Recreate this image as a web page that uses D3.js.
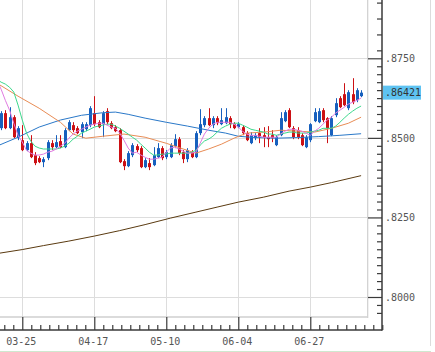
<!DOCTYPE html>
<html><head><meta charset="utf-8">
<script src="https://cdn.jsdelivr.net/npm/d3@7"></script>
<style>html,body{margin:0;padding:0;background:#fff;}svg{display:block;}</style>
</head><body><svg id="c" width="435" height="352"></svg>
<script>
// ---------- data ----------
const dates = ["03-18","03-19","03-20","03-21","03-22","03-25","03-26","03-27","03-28","03-29",
"04-01","04-02","04-03","04-04","04-05","04-08","04-09","04-10","04-11","04-12",
"04-15","04-16","04-17","04-18","04-19","04-22","04-23","04-24","04-25","04-26",
"04-29","04-30","05-01","05-02","05-03","05-06","05-07","05-08","05-09","05-10",
"05-13","05-14","05-15","05-16","05-17","05-20","05-21","05-22","05-23","05-24",
"05-27","05-28","05-29","05-30","05-31","06-03","06-04","06-05","06-06","06-07",
"06-10","06-11","06-12","06-13","06-14","06-17","06-18","06-19","06-20","06-21",
"06-24","06-25","06-26","06-27","06-28","07-01","07-02","07-03","07-04","07-05",
"07-08","07-09","07-10","07-11","07-12","07-15"];

const open = [.85305,.85776,.85305,.85650,.84991,.84928,.84614,.84834,.84457,.84363,
.84237,.84363,.84834,.84708,.84897,.84708,.85242,.85399,.85305,.85179,
.85273,.85399,.85776,.85493,.85430,.85839,.85462,.85336,.85242,.84268,
.84111,.84457,.84740,.84677,.84080,.84206,.84143,.84394,.84677,.84394,
.84394,.84740,.84959,.84551,.84331,.84551,.84394,.85148,.85399,.85619,
.85399,.85619,.85430,.85462,.85619,.85430,.85336,.85336,.85148,.84834,
.84991,.85148,.85085,.85022,.85085,.84771,.85085,.85525,.85870,.85305,
.85242,.85085,.84708,.84928,.85525,.85493,.85870,.85619,.85085,.85713,
.86247,.86372,.85933,.86372,.86184,.86310];
const close = [.85776,.85305,.85650,.85022,.85305,.84614,.84834,.84394,.84206,.84237,
.84331,.84865,.84708,.84865,.84708,.85242,.85493,.85242,.85148,.85430,
.85430,.85933,.85430,.85336,.85776,.85493,.85305,.85210,.84237,.84111,
.84520,.84771,.84614,.84080,.84300,.84080,.84457,.84677,.84363,.84551,
.84771,.84959,.84520,.84331,.84614,.84394,.85148,.85430,.85619,.85399,
.85619,.85462,.85556,.85650,.85430,.85305,.85430,.85148,.84928,.85085,
.85085,.85022,.85022,.84959,.84991,.85022,.85619,.85807,.85336,.85022,
.85022,.84771,.85022,.85430,.85807,.85839,.85556,.85305,.85619,.86090,
.85964,.86027,.86435,.86121,.86498,.86421];
const high = [.85839,.85870,.85964,.85713,.85368,.85399,.84897,.85085,.84551,.84425,
.84394,.84928,.84928,.85085,.85085,.85305,.85556,.85493,.85368,.85493,
.85493,.85996,.86310,.85556,.85839,.85933,.85525,.85399,.85305,.84331,
.84583,.84834,.84802,.84740,.84363,.84363,.84708,.84834,.84740,.84614,
.84834,.85116,.85022,.84614,.84677,.84614,.85210,.85901,.85682,.85933,
.85682,.85682,.85933,.85933,.85682,.85493,.85493,.85399,.85210,.85179,
.85148,.85305,.85336,.85368,.85242,.85085,.85807,.85870,.85933,.85368,
.85336,.85148,.85085,.85462,.85933,.85933,.85933,.85650,.85682,.86247,
.86310,.86718,.86498,.86875,.86561,.86498];
const low = [.85242,.85273,.85273,.84991,.84928,.84583,.84583,.84363,.84143,.84206,
.84080,.84300,.84614,.84677,.84677,.84677,.85210,.85179,.85116,.84991,
.85210,.85336,.85368,.85305,.85022,.85430,.85273,.85179,.84206,.83986,
.84080,.84394,.84551,.84049,.84049,.83986,.84111,.84363,.84300,.84331,
.84363,.84677,.84457,.84206,.84237,.84363,.84363,.85085,.85336,.85368,
.85305,.85399,.85399,.85430,.85305,.85273,.85305,.85085,.84897,.84802,
.84928,.84834,.84708,.84708,.84865,.84740,.85053,.85493,.85305,.84959,
.84959,.84740,.84677,.84865,.85493,.85462,.85493,.84834,.85053,.85650,
.85933,.85996,.85870,.86058,.86121,.86278];

// short moving average (values from candle index -1 to 85)
const maShortStart = -1;
const maShort = [.8681,.8653,.8618,.8587,.8546,.8508,.8487,.8461,.8452,.8446,
.8446,.8449,.8455,.8458,.8465,.8474,.8483,.8499,.8512,.8521,
.8527,.8534,.8540,.8543,.8546,.8546,.8540,.8534,.8530,.8515,
.8493,.8468,.8452,.8455,.8446,.8439,.8433,.8433,.8436,.8439,
.8455,.8468,.8471,.8465,.8458,.8452,.8452,.8455,.8483,.8512,
.8530,.8543,.8549,.8549,.8549,.8549,.8543,.8534,.8521,.8512,
.8508,.8508,.8505,.8502,.8502,.8502,.8502,.8512,.8521,.8527,
.8527,.8524,.8521,.8515,.8508,.8521,.8530,.8543,.8556,.8565,
.8578,.8587,.8596,.8606,.8612,.8618,.8625];
// medium moving average (index -1 to 85)
const maMidStart = -1;
const maMid = [.8684,.8675,.8669,.8659,.8644,.8603,.8556,.8515,.8490,.8474,
.8468,.8465,.8465,.8465,.8465,.8468,.8474,.8483,.8496,.8505,
.8515,.8521,.8527,.8534,.8537,.8540,.8543,.8543,.8537,.8530,
.8521,.8512,.8502,.8493,.8480,.8468,.8455,.8446,.8446,.8449,
.8449,.8452,.8452,.8452,.8452,.8452,.8455,.8461,.8477,.8490,
.8496,.8505,.8518,.8530,.8537,.8543,.8546,.8546,.8540,.8534,
.8527,.8524,.8521,.8518,.8512,.8512,.8508,.8512,.8515,.8518,
.8518,.8515,.8515,.8515,.8518,.8521,.8524,.8530,.8530,.8530,
.8537,.8549,.8562,.8574,.8584,.8593,.8600];
// longer moving averages, sampled at candle indices
const ma25Idx = [-1,4,9,14,17,20,24,29,34,39,43,46,49,52,55,58,62,66,70,74,78,82,85];
const ma25 = [.8672,.8631,.8593,.8549,.8512,.8499,.8505,.8512,.8502,.8483,.8465,.8452,.8465,.8480,.8499,.8515,.8518,.8524,.8521,.8518,.8530,.8546,.8565];
const ma75Idx = [-1,4,9,14,19,24,27,30,34,39,44,49,53,56,60,65,70,75,80,85];
const ma75 = [.8474,.8502,.8534,.8556,.8571,.8579,.8581,.8574,.8562,.8549,.8537,.8524,.8515,.8505,.8501,.8499,.8501,.8504,.8508,.8513];
const ma200Idx = [-1,5,10,16,22,28,34,40,46,51,56,62,68,73,78,85];
const ma200 = [.81364,.81490,.81615,.81757,.81914,.82086,.82275,.82479,.82667,.82824,.82981,.83138,.83327,.83452,.83594,.83813];

const yMajor = [0.800, 0.825, 0.850, 0.875];
const yMajorLabels = [".8000", ".8250", ".8500", ".8750"];
const lastPrice = 0.86421;
const lastLabel = ".86421";

// ---------- layout ----------
const W = 435, H = 352;
const plotR = 367.7, plotB = 317, axisX = 382, axisY = 330;
const svg = d3.select("#c");

const x = d3.scaleLinear().domain([0, 85]).range([1.1, 361.1]);
const y = d3.scaleLinear().domain([0.800, 0.875]).range([297, 58.3]);

const tickIdx = d3.range(5, dates.length, 17);
const minorX = d3.range(-2, 80).map(k => 5 + k * 17 / 8).filter(v => x(v) >= 0 && x(v) <= axisX + 0.5 && !tickIdx.includes(v));
const minorY = d3.range(0, 34).map(k => +(0.795 + k * 0.0025).toFixed(4))
  .filter(v => !yMajor.some(m => Math.abs(m - v) < 1e-6))
  .concat([0.8825, 0.8875, 0.8925]);

const font = "'DejaVu Sans Mono', 'Liberation Mono', monospace";

// outer frame
svg.append("line").attr("x1", 430.5).attr("x2", 430.5).attr("y1", 0).attr("y2", 346)
  .attr("stroke", "#dcdcdc").attr("stroke-width", 1);
svg.append("line").attr("x1", 0).attr("x2", 431).attr("y1", 351.5).attr("y2", 351.5)
  .attr("stroke", "#cfe8cf").attr("stroke-width", 1);

// grid
const grid = svg.append("g");
grid.selectAll(".hg").data(yMajor).join("line")
  .attr("x1", 0).attr("x2", plotR).attr("y1", d => Math.round(y(d)) + 0.5).attr("y2", d => Math.round(y(d)) + 0.5)
  .attr("stroke", "#dddddd");
grid.selectAll(".vg").data(tickIdx).join("line")
  .attr("x1", d => Math.round(x(d)) + 0.5).attr("x2", d => Math.round(x(d)) + 0.5).attr("y1", 0).attr("y2", plotB)
  .attr("stroke", "#dddddd");
// plot border
svg.append("line").attr("x1", plotR).attr("x2", plotR).attr("y1", 0).attr("y2", plotB + 1)
  .attr("stroke", "#cfcfcf").attr("stroke-width", 1.2);
svg.append("line").attr("x1", 0).attr("x2", plotR).attr("y1", plotB).attr("y2", plotB)
  .attr("stroke", "#cfcfcf").attr("stroke-width", 1.6);

svg.append("clipPath").attr("id", "clip").append("rect")
  .attr("x", 0).attr("y", 0).attr("width", plotR - 0.5).attr("height", plotB - 0.5);
const plot = svg.append("g").attr("clip-path", "url(#clip)");

// candles
const idx = d3.range(dates.length);
const up = i => close[i] >= open[i];
const blue = "#1760be", red = "#cc1014";
const cg = plot.append("g");
cg.selectAll("line").data(idx).join("line")
  .attr("x1", i => Math.round(x(i)) + 0.5).attr("x2", i => Math.round(x(i)) + 0.5)
  .attr("y1", i => y(high[i])).attr("y2", i => y(low[i]))
  .attr("stroke", i => up(i) ? blue : red).attr("stroke-width", 1);
cg.selectAll("rect").data(idx).join("rect")
  .attr("x", i => Math.round(x(i)) - 1)
  .attr("width", 3)
  .attr("y", i => y(Math.max(open[i], close[i])))
  .attr("height", i => Math.max(1, Math.abs(y(open[i]) - y(close[i]))))
  .attr("fill", i => up(i) ? blue : red);

// moving averages
const line = d3.line().x(d => x(d[0])).y(d => y(d[1]));
function drawMA(idxs, vals, color) {
  plot.append("path").datum(idxs.map((k, j) => [k, vals[j]]))
    .attr("d", line).attr("fill", "none").attr("stroke", color).attr("stroke-width", 1);
}
drawMA(ma200Idx, ma200, "#5a3a10");
drawMA(ma75Idx, ma75, "#2a78c8");
drawMA(ma25Idx, ma25, "#e88c55");
drawMA(maMid.map((_, j) => j + maMidStart), maMid, "#3dd88c");
drawMA(maShort.map((_, j) => j + maShortStart), maShort, "#e07be0");

// axes lines
svg.append("line").attr("x1", axisX).attr("x2", axisX).attr("y1", 0).attr("y2", axisY + 0.8)
  .attr("stroke", "#3a3a3a").attr("stroke-width", 1.5);
svg.append("line").attr("x1", 0).attr("x2", axisX).attr("y1", axisY).attr("y2", axisY)
  .attr("stroke", "#3a3a3a").attr("stroke-width", 1.5);

function styleTicks(g) {
  g.select(".domain").remove();
  g.selectAll(".tick line").attr("stroke", "#3a3a3a").attr("stroke-width", 1.2);
}
// y ticks
svg.append("g").attr("transform", `translate(${axisX},0)`)
  .call(d3.axisLeft(y).tickValues(yMajor).tickSize(14).tickFormat("")).call(styleTicks);
svg.append("g").attr("transform", `translate(${axisX},0)`)
  .call(d3.axisLeft(y).tickValues(minorY).tickSize(5).tickFormat("")).call(styleTicks);
const yl = svg.append("g").attr("transform", `translate(${axisX},0)`)
  .call(d3.axisRight(y).tickValues(yMajor).tickSize(0).tickPadding(3).tickFormat((d, i) => yMajorLabels[i]));
yl.select(".domain").remove();
yl.selectAll("text").attr("fill", "#555").style("font", `10px ${font}`);

// last price label
const ly = y(lastPrice);
svg.append("rect").attr("x", axisX + 1).attr("y", ly - 7).attr("width", 38).attr("height", 14).attr("fill", "#5ec3f2");
svg.append("text").attr("x", axisX + 3).attr("y", ly).attr("dy", "0.32em")
  .attr("fill", "#333").style("font", `10px ${font}`).text(lastLabel);

// x ticks
svg.append("g").attr("transform", `translate(0,${axisY})`)
  .call(d3.axisTop(x).tickValues(tickIdx).tickSize(13).tickFormat("")).call(styleTicks);
svg.append("g").attr("transform", `translate(0,${axisY})`)
  .call(d3.axisTop(x).tickValues(minorX).tickSize(5).tickFormat("")).call(styleTicks);
const xl = svg.append("g").attr("transform", `translate(0,${axisY})`)
  .call(d3.axisBottom(x).tickValues(tickIdx).tickSize(0).tickPadding(8).tickFormat(i => dates[i]));
xl.select(".domain").remove();
xl.selectAll("text").attr("fill", "#555").attr("dx", "-1.5").style("font", `10px ${font}`);
</script>
</body></html>
